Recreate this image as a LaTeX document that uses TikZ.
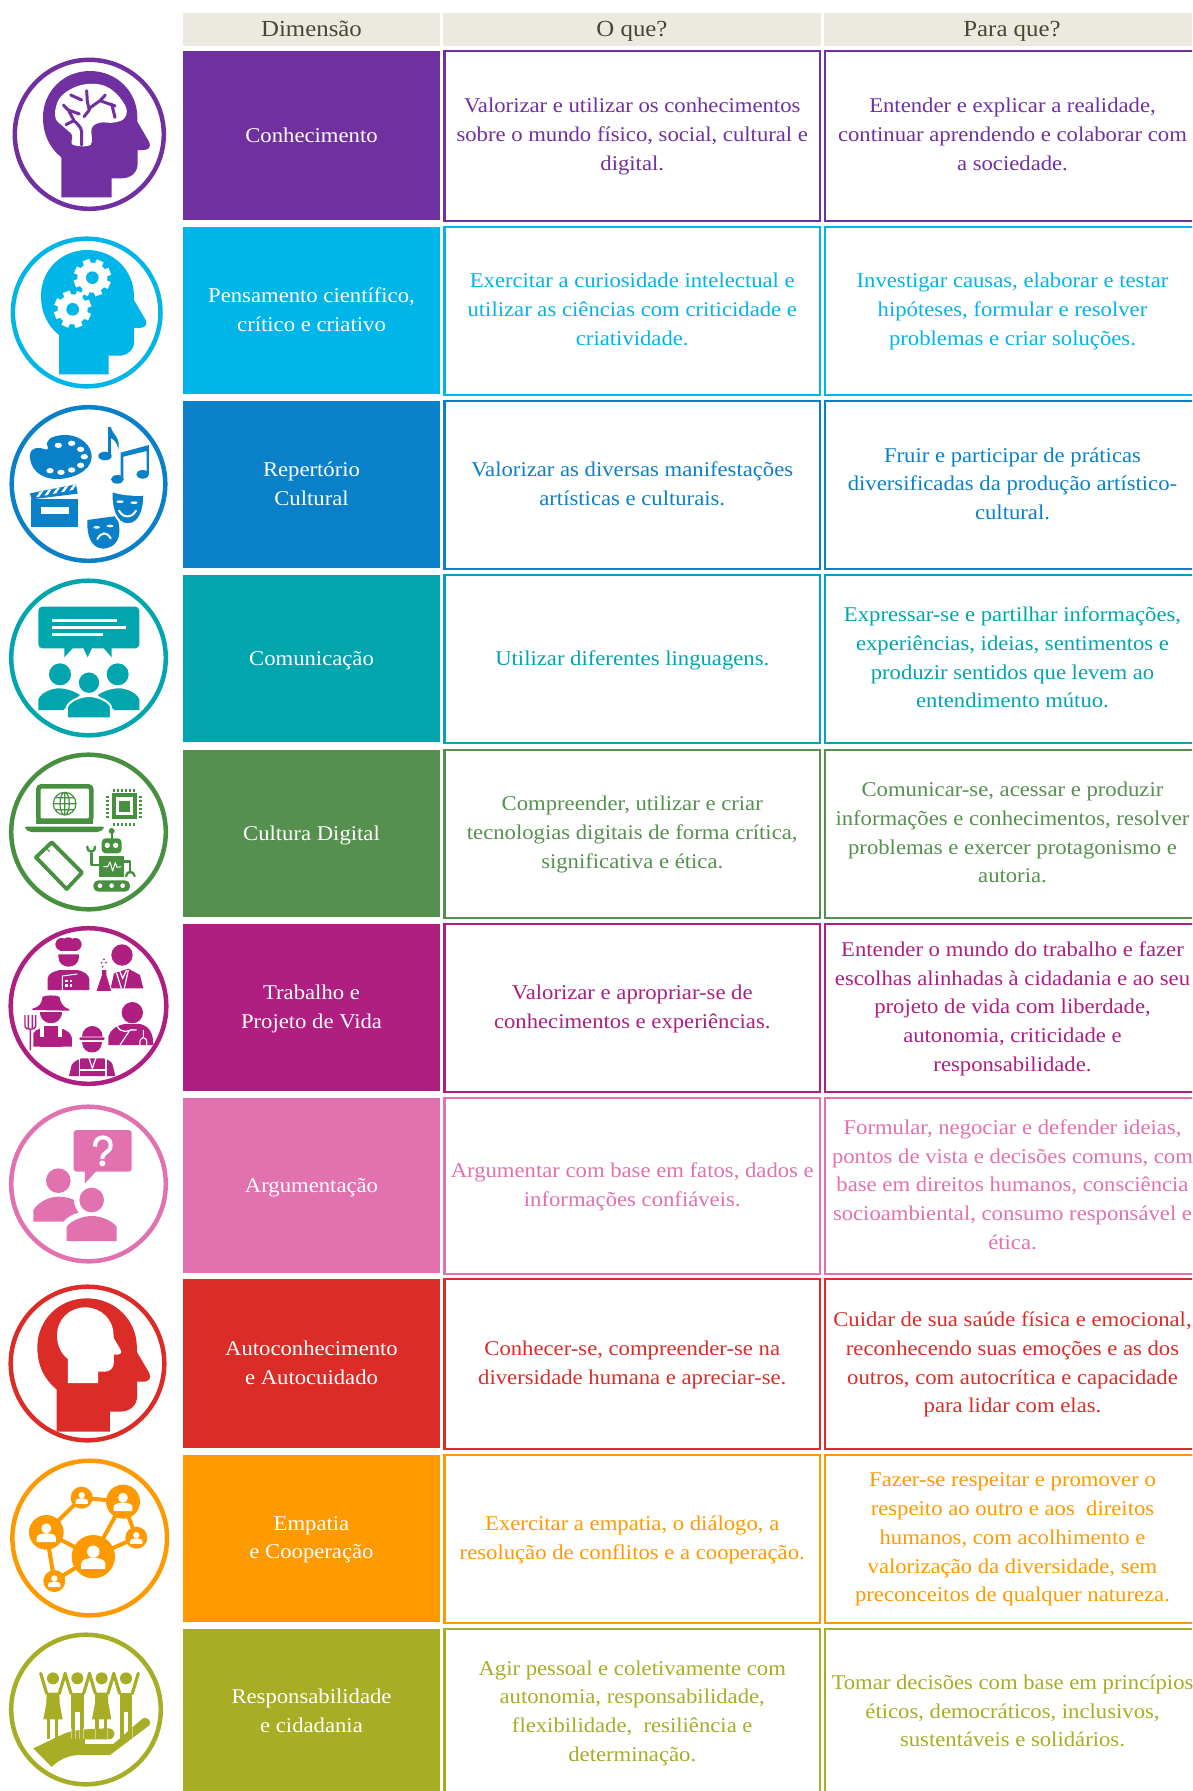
\documentclass[tikz,border=0pt]{standalone}
\usepackage{fontspec}
\setmainfont[FakeStretch=1.08]{Liberation Serif}
\definecolor{cA}{HTML}{7030A0}
\definecolor{cB}{HTML}{00B5E8}
\definecolor{cC}{HTML}{0A80C8}
\definecolor{cD}{HTML}{00A5AE}
\definecolor{cE}{HTML}{55904F}
\definecolor{cEi}{HTML}{46903F}
\definecolor{cF}{HTML}{AE1F81}
\definecolor{cG}{HTML}{E271AF}
\definecolor{cH}{HTML}{DC2C28}
\definecolor{cI}{HTML}{FF9900}
\definecolor{cJ}{HTML}{A7AD24}
\definecolor{hdfill}{HTML}{ECEAE0}
\definecolor{hdtext}{HTML}{4A4630}
\newcommand{\oneline}[1]{\raisebox{5.1pt}{#1}}
\tikzset{
  celltext/.style={font=\fontsize{21}{28.7}\selectfont,align=center,inner sep=0pt,execute at begin node={\rule{0pt}{26.1pt}},execute at end node=\strut},
  hdbox/.style={fill=hdfill,text=hdtext,inner sep=0pt,font=\fontsize{23}{28}\selectfont,minimum height=33pt,execute at begin node={\rule{0pt}{21.6pt}\rule[-8.4pt]{0pt}{8.4pt}}},
  zf/.style={yshift=#1,x=0.33333pt,y=-0.33333pt},
  ring/.style={draw=#1,line width=4.5pt},
}
\newcommand{\trow}[7]{%
  \node[fill=#2,inner sep=0pt,minimum width=257pt,minimum height={(#4-#3)*1pt}] (d#1) at (311.5,{(#3+#4)/2}) {};
  \node[draw=#2,line width=2.2pt,inner sep=0pt,minimum width=375.5pt,minimum height={(#4-#3+1)*1pt}] (o#1) at (632.25,{(#3+#4+1)/2}) {};
  \node[draw=#2,line width=2.2pt,inner sep=0pt,minimum width=375pt,minimum height={(#4-#3+1)*1pt}] (p#1) at (1012.5,{(#3+#4+1)/2}) {};
  \node[text=white,celltext] (dt#1) at (311.5,{(#3+#4)/2+3.2}) {#5};
  \node[text=#2,celltext] (ot#1) at (632.25,{(#3+#4)/2+3.2}) {#6};
  \node[text=#2,celltext] (pt#1) at (1012.5,{(#3+#4)/2+3.2}) {#7};
}
\newcommand{\headpath}{(55,379) -- (55,259) .. controls (21,232) and (0,192) .. (0,139) .. controls (0,62) and (61,0) .. (141,0) .. controls (221,0) and (283,62) .. (283,139) -- (283,152) -- (318,212) .. controls (326,227) and (316,237) .. (303,237) -- (284,237) -- (284,277) .. controls (284,305) and (263,322) .. (236,322) -- (206,322) -- (206,379) -- cycle}
\newcommand{\headicon}[4]{\begin{scope}[shift={(#1,#2)},scale=#3]\fill[#4] \headpath;\end{scope}}
\newcommand{\gearicon}[5]{\begin{scope}[shift={(#1,#2)}]
  \fill[white] (0,0) circle [radius=#3];
  \foreach \a in {0,45,...,315}{\fill[white,rotate=\a+20] (-11,0) rectangle (11,{#3+11});}
  \fill[#5] (0,0) circle [radius=#4];\end{scope}}
\newcommand{\netperson}[4]{% x y r colour
  \fill[#4] (#1,#2) circle [radius=#3];
  \begin{scope}[shift={(#1,#2)},scale=#3/52]
  \fill[white] (0,-12) circle [radius=15];
  \fill[white] (-29,29) -- (-29,16) .. controls (-29,6) and (-12,3) .. (0,3) .. controls (12,3) and (29,6) .. (29,16) -- (29,29) -- cycle;
  \end{scope}}
\begin{document}
\begin{tikzpicture}[x=1pt,y=-1pt]
\useasboundingbox (0,0) rectangle (1192,1791);
\clip (0,0) rectangle (1192,1791);
\fill[white] (0,0) rectangle (1192,1791);
% headers
\node[hdbox,minimum width=257pt] (h1) at (311.5,29.5) {Dimensão};
\node[hdbox,minimum width=378pt] (h2) at (632,29.5) {O que?};
\node[hdbox,minimum width=376pt] (h3) at (1012,29.5) {Para que?};
% rows
\trow{1}{cA}{51}{220}{\oneline{Conhecimento}}{Valorizar e utilizar os conhecimentos\\sobre o mundo físico, social, cultural e\\digital.}{Entender e explicar a realidade,\\continuar aprendendo e colaborar com\\a sociedade.}
\trow{2}{cB}{227}{394}{Pensamento científico,\\crítico e criativo}{Exercitar a curiosidade intelectual e\\utilizar as ciências com criticidade e\\criatividade.}{Investigar causas, elaborar e testar\\hipóteses, formular e resolver\\problemas e criar soluções.}
\trow{3}{cC}{401}{568}{Repertório\\Cultural}{Valorizar as diversas manifestações\\artísticas e culturais.}{Fruir e participar de práticas\\diversificadas da produção artístico-\\cultural.}
\trow{4}{cD}{575}{742}{\oneline{Comunicação}}{\oneline{Utilizar diferentes linguagens.}}{Expressar-se e partilhar informações,\\experiências, ideias, sentimentos e\\produzir sentidos que levem ao\\entendimento mútuo.}
\trow{5}{cE}{750}{917}{\oneline{Cultura Digital}}{Compreender, utilizar e criar\\tecnologias digitais de forma crítica,\\significativa e ética.}{Comunicar-se, acessar e produzir\\informações e conhecimentos, resolver\\problemas e exercer protagonismo e\\autoria.}
\trow{6}{cF}{924}{1091}{Trabalho e\\Projeto de Vida}{Valorizar e apropriar-se de\\conhecimentos e experiências.}{Entender o mundo do trabalho e fazer\\escolhas alinhadas à cidadania e ao seu\\projeto de vida com liberdade,\\autonomia, criticidade e\\responsabilidade.}
\trow{7}{cG}{1098}{1273}{\oneline{Argumentação}}{Argumentar com base em fatos, dados e\\informações confiáveis.}{Formular, negociar e defender ideias,\\pontos de vista e decisões comuns, com\\base em direitos humanos, consciência\\socioambiental, consumo responsável e\\ética.}
\trow{8}{cH}{1279}{1448}{Autoconhecimento\\e Autocuidado}{Conhecer-se, compreender-se na\\diversidade humana e apreciar-se.}{Cuidar de sua saúde física e emocional,\\reconhecendo suas emoções e as dos\\outros, com autocrítica e capacidade\\para lidar com elas.}
\trow{9}{cI}{1455}{1622}{Empatia\\e Cooperação}{Exercitar a empatia, o diálogo, a\\resolução de conflitos e a cooperação.}{Fazer-se respeitar e promover o\\respeito ao outro e aos\ \ direitos\\humanos, com acolhimento e\\valorização da diversidade, sem\\preconceitos de qualquer natureza.}
\trow{10}{cJ}{1629}{1795}{Responsabilidade\\e cidadania}{Agir pessoal e coletivamente com\\autonomia, responsabilidade,\\flexibilidade,\ \ resiliência e\\determinação.}{Tomar decisões com base em princípios\\éticos, democráticos, inclusivos,\\sustentáveis e solidários.}
% rings
\draw[ring=cA] (89.3,134.3) circle [radius=74.5];
\draw[ring=cB] (86.7,312.5) circle [radius=73.8];
\draw[ring=cC] (88.5,484) circle [radius=76.8];
\draw[ring=cD] (88.5,658) circle [radius=77.3];
\draw[ring=cEi] (88.5,832) circle [radius=77.3];
\draw[ring=cF] (88.5,1006) circle [radius=77.8];
\draw[ring=cG] (88.5,1184) circle [radius=77.3];
\draw[ring=cH] (87.5,1363.5) circle [radius=76.8];
\draw[ring=cI] (89.7,1538) circle [radius=77.3];
\draw[ring=cJ] (86,1709.5) circle [radius=74.8];
% icon 1 brain
\begin{scope}[zf=0pt]
\headicon{129}{213}{1}{cA}
\fill[white] plot [smooth cycle,tension=.6] coordinates {(166,330) (180,293) (215,266) (260,252) (310,256) (350,282) (379,325) (372,356) (340,368) (300,368) (275,385) (272,434) (218,434) (216,405) (190,380) (168,358)};
\fill[white] (218,395) rectangle (272,435);
\draw[cA,line width=3pt,line cap=round,line join=round]
 (245,435) -- (245,395) .. controls (243,380) and (232,372) .. (222,362) -- (198,374)
 (222,362) -- (205,330) -- (190,315)
 (205,330) -- (238,342)
 (212,285) -- (245,300)
 (260,272) -- (262,305) -- (268,330) -- (252,350)
 (268,325) -- (300,302) -- (316,285)
 (300,302) -- (345,318)
 (335,312) -- (345,352);
\end{scope}
% icon 2 gears
\begin{scope}[zf=0pt]
\headicon{123}{750}{0.985}{cB}
\gearicon{277}{833}{45}{19}{cB}
\gearicon{218}{928}{45}{19}{cB}
\end{scope}
% icon 3 arts
\begin{scope}[zf=-390pt]
\fill[cC] (90,195) .. controls (92,168) and (122,172) .. (135,178) .. controls (150,182) and (142,168) .. (140,160) .. controls (145,140) and (175,135) .. (195,135) .. controls (245,135) and (277,170) .. (275,203) .. controls (272,245) and (215,267) .. (170,267) .. controls (120,267) and (88,235) .. (90,195) -- cycle;
\foreach \p/\q in {175/166,215/160,242/178,253/200,242/226,215/240,183/247,150/242}{\fill[white] (\p,\q) ellipse [x radius=11,y radius=8];}
% notes
\fill[cC] (315,198) ellipse [x radius=20,y radius=13];
\fill[cC] (325,112) rectangle (333,198);
\fill[cC] (333,112) .. controls (338,135) and (362,140) .. (355,180) .. controls (352,155) and (340,148) .. (333,145) -- cycle;
\fill[cC] (352,268) ellipse [x radius=19,y radius=13];
\fill[cC] (428,253) ellipse [x radius=19,y radius=13];
\fill[cC] (362,188) -- (447,165) -- (447,255) -- (440,255) -- (440,183) -- (370,200) -- (370,270) -- (362,270) -- cycle;
% clapper
\fill[cC] (93,328) rectangle (235,410);
\fill[white] (122,350) rectangle (207,373);
\fill[cC] (90,310) -- (228,283) -- (233,311) -- (95,328) -- cycle;
\foreach \s in {0,1,2,3,4}{\fill[white] ({108+\s*25},{322-\s*5}) -- ({120+\s*25},{305-\s*5}) -- ({130+\s*25},{303-\s*5}) -- ({118+\s*25},{320-\s*5}) -- cycle;}
% masks
\fill[cC] (262,390) -- (350,378) .. controls (362,410) and (370,470) .. (310,476) .. controls (270,475) and (260,430) .. (262,390) -- cycle;
\fill[cC,draw=white,line width=2pt] (335,303) .. controls (365,313) and (400,316) .. (433,314) .. controls (433,360) and (420,402) .. (383,403) .. controls (345,402) and (332,350) .. (335,303) -- cycle;
\fill[white] (360,335) ellipse [x radius=11,y radius=4];
\fill[white] (402,338) ellipse [x radius=11,y radius=4];
\draw[white,line width=2pt,line cap=round] (357,362) .. controls (370,385) and (395,385) .. (408,362);
\fill[white] (290,412) ellipse [x radius=10,y radius=4];
\fill[white] (330,408) ellipse [x radius=10,y radius=4];
\draw[white,line width=2pt,line cap=round] (292,447) .. controls (305,425) and (320,425) .. (332,445);
\end{scope}
% icon 4 communication
\begin{scope}[zf=-390pt]
\fill[cD,rounded corners=4pt] (115,650) rectangle (418,775);
\fill[cD] (193,770) -- (193,802) -- (222,770) -- cycle (248,770) -- (263,802) -- (278,770) -- cycle (307,770) -- (335,802) -- (335,770) -- cycle;
\draw[white,line width=2.4pt] (157,692) -- (352,692) (157,713) -- (377,713) (157,734) -- (310,734);
\fill[cD] (180,853) circle [radius=33] (353,853) circle [radius=33];
\fill[cD] (115,960) -- (115,928) .. controls (125,905) and (160,895) .. (175,895) .. controls (200,895) and (225,905) .. (240,915) -- (190,960) -- cycle;
\fill[cD] (418,960) -- (418,928) .. controls (408,905) and (373,895) .. (358,895) .. controls (333,895) and (308,905) .. (293,915) -- (343,960) -- cycle;
\fill[cD,draw=white,line width=2pt] (267,878) circle [radius=34];
\fill[cD,draw=white,line width=2pt] (201,985) -- (201,950) .. controls (210,930) and (245,918) .. (267,918) .. controls (289,918) and (324,930) .. (333,950) -- (333,985) -- cycle;
\end{scope}
% icon 5 digital
\begin{scope}[zf=-740pt]
\draw[cEi,line width=4.6pt,rounded corners=3pt] (115,139) rectangle (274,242);
\fill[cEi] (108,240) rectangle (280,252);
\fill[cEi,rounded corners=2pt] (75,260) -- (312,260) -- (312,266) -- (298,276) -- (88,276) -- (75,266) -- cycle;
\draw[cEi,line width=1.2pt] (194,191) circle [radius=34] (194,191) ellipse [x radius=14,y radius=34] (160,191) -- (228,191) (166,173) -- (222,173) (166,209) -- (222,209) (194,157) -- (194,225);
\fill[cEi] (335,160) rectangle (412,238);
\fill[white] (347,172) rectangle (400,226);
\fill[cEi] (356,182) rectangle (391,216);
\foreach \k in {0,1,2,3,4,5}{
 \fill[cEi] ({339+\k*12},147) rectangle ({346+\k*12},156);
 \fill[cEi] ({339+\k*12},248) rectangle ({346+\k*12},257);
 \fill[cEi] (317,{168+\k*12}) rectangle (327,{175+\k*12});
 \fill[cEi] (417,{168+\k*12}) rectangle (427,{175+\k*12});
}
\draw[cEi,line width=3.8pt,line join=round] (155,307) -- (246,398) -- (200,447) -- (108,352) -- cycle;
\draw[cEi,line width=1pt] (135,322) -- (150,335);
\fill[cEi] (335,273) circle [radius=9];
\draw[cEi,line width=2pt] (335,275) -- (335,297);
\fill[cEi,rounded corners=4pt] (305,295) rectangle (365,340);
\fill[white] (322,316) circle [radius=8] (347,316) circle [radius=8];
\fill[cEi] (297,348) rectangle (372,412);
\draw[white,line width=1pt,line join=round] (310,380) -- (323,380) -- (330,366) -- (338,393) -- (346,368) -- (351,382) -- (364,380);
\draw[cEi,line width=2.6pt,line cap=round,line join=round] (297,375) -- (274,375) -- (274,340) (372,365) -- (390,365) -- (390,395);
\draw[cEi,line width=2.4pt,line cap=round] (262,320) .. controls (262,340) and (285,340) .. (285,320);
\draw[cEi,line width=2.4pt,line cap=round] (378,408) .. controls (380,392) and (402,392) .. (404,408);
\fill[cEi,rounded corners=5pt] (280,421) rectangle (390,455);
\fill[white] (300,437) circle [radius=7] (335,437) circle [radius=7] (368,437) circle [radius=7];
\end{scope}
% icon 6 work
\begin{scope}[zf=-740pt]
% chef
\fill[cF] (185,613) circle [radius=19] (205,612) circle [radius=20] (226,613) circle [radius=19];
\fill[cF] (180,615) rectangle (232,633);
\fill[cF] (175,643) -- (237,643) -- (237,650) .. controls (237,690) and (175,690) .. (175,650) -- cycle;
\fill[cF] (143,750) -- (143,715) .. controls (143,700) and (165,693) .. (180,690) -- (232,690) .. controls (255,695) and (268,705) .. (268,720) -- (268,750) -- cycle;
\draw[white,line width=1pt] (187,750) -- (187,708) -- (232,702);
\foreach \p/\q in {199/723,213/723,199/737,213/737}{\fill[white] (\p-4,\q-4) rectangle (\p+4,\q+4);}
% scientist
\fill[cF] (366,645) circle [radius=32];
\fill[cF] (332,745) -- (342,700) -- (385,686) -- (420,705) -- (430,745) -- cycle;
\draw[white,line width=1.2pt] (350,700) -- (364,745) (385,690) -- (373,745) (358,690) -- (368,715) -- (380,690);
\fill[cF,draw=white,line width=1pt] (304,688) -- (321,688) -- (321,705) -- (336,755) -- (287,755) -- (304,705) -- cycle;
\fill[cF] (312,658) circle [radius=3] (305,668) circle [radius=3] (318,668) circle [radius=3] (308,680) circle [radius=3];
% farmer
\fill[cF] (97,806) .. controls (120,800) and (125,790) .. (128,770) .. controls (140,765) and (165,765) .. (178,770) .. controls (182,790) and (190,802) .. (208,808) -- (208,812) -- (97,810) -- cycle;
\fill[cF] (120,816) -- (186,816) .. controls (186,860) and (120,860) .. (120,816) -- cycle;
\draw[cF,line width=1.4pt] (75,825) -- (75,860) .. controls (75,870) and (107,870) .. (107,860) -- (107,825) (85,825) -- (85,865) (97,825) -- (97,865) (91,868) -- (91,930);
\fill[cF] (100,920) -- (100,880) .. controls (103,872) and (112,868) .. (120,866) -- (120,920) -- cycle;
\fill[cF] (133,858) rectangle (175,890);
\fill[cF] (185,866) .. controls (200,870) and (214,880) .. (216,895) -- (216,920) -- (185,920) -- cycle;
\fill[cF] (120,890) rectangle (185,920);
\draw[white,line width=.7pt] (120,866) -- (120,890) (185,866) -- (185,890);
% worker
\fill[cF] (246,890) .. controls (246,870) and (262,858) .. (277,858) .. controls (292,858) and (308,870) .. (308,890) -- cycle;
\fill[cF,rounded corners=1pt] (238,892) rectangle (314,900);
\fill[cF] (247,905) -- (306,905) .. controls (306,948) and (247,948) .. (247,905) -- cycle;
\fill[cF] (207,1008) -- (215,975) .. controls (220,965) and (235,958) .. (245,955) -- (310,955) .. controls (325,958) and (335,965) .. (338,975) -- (346,1008) -- cycle;
\draw[white,line width=1.2pt] (238,958) -- (238,1008) (318,958) -- (318,1008) (238,990) -- (318,990);
\draw[white,line width=1.2pt] (265,948) -- (277,985) -- (290,948);
% doctor
\fill[cF] (397,818) circle [radius=32];
\fill[cF] (325,915) -- (325,890) .. controls (330,870) and (350,855) .. (375,852) -- (420,852) .. controls (445,858) and (460,875) .. (460,915) -- cycle;
\draw[white,line width=1.2pt] (360,915) -- (390,870) -- (410,870) (352,858) .. controls (360,880) and (385,875) .. (398,868);
\draw[white,line width=1.1pt] (420,915) .. controls (415,885) and (445,885) .. (440,915) (430,890) -- (430,870);
\end{scope}
% icon 7 argument
\begin{scope}[zf=-1090pt]
\fill[cG,rounded corners=3pt] (221,120) rectangle (395,245);
\fill[cG] (255,240) -- (255,280) -- (292,240) -- cycle;
\draw[white,line width=4pt] (285,170) .. controls (283,132) and (333,135) .. (332,165) .. controls (332,190) and (307,183) .. (307,207);
\fill[white] (307,220) circle [radius=9];
\fill[cG] (175,272) circle [radius=37];
\fill[cG] (100,395) -- (100,360) .. controls (115,335) and (150,320) .. (175,320) .. controls (190,320) and (210,323) .. (222,330) .. controls (222,345) and (228,358) .. (236,368) .. controls (215,373) and (200,382) .. (190,395) -- cycle;
\fill[cG] (275,330) circle [radius=37];
\fill[cG] (200,453) -- (200,410) .. controls (215,390) and (250,378) .. (275,378) .. controls (300,378) and (335,390) .. (350,410) -- (350,453) -- cycle;
\end{scope}
% icon 8 self
\begin{scope}[zf=-1090pt]
\headicon{112}{625}{1.055}{cH}
\headicon{171}{652}{0.6}{white}
\end{scope}
% icon 9 network
\begin{scope}[zf=-1440pt]
\coordinate (na) at (139,277);
\coordinate (nb) at (245,173);
\coordinate (nc) at (369,185);
\coordinate (nd) at (409,293);
\coordinate (ne) at (280,350);
\coordinate (nf) at (163,423);
\draw[cI,line width=4pt] (na) -- (nb) (nb) -- (nc) (nc) -- (nd) (nc) -- (ne) (nd) -- (ne) (ne) -- (nf) (na) -- (ne) (na) -- (nf);
\netperson{139}{277}{52}{cI}
\netperson{245}{173}{33}{cI}
\netperson{369}{185}{51}{cI}
\netperson{409}{293}{33}{cI}
\netperson{280}{350}{65}{cI}
\netperson{163}{423}{33}{cI}
\end{scope}
% icon 10 citizens
\begin{scope}[zf=-1440pt]
\fill[cJ] (100,925) -- (190,882) .. controls (220,868) and (280,866) .. (325,865) .. controls (350,865) and (350,898) .. (325,898) -- (255,898) -- (255,912) -- (340,912) -- (425,838) .. controls (440,825) and (458,845) .. (448,856) -- (330,945) -- (240,945) .. controls (205,945) and (175,960) .. (155,981) -- cycle;
\foreach \h in {159,305}{
 \fill[cJ] (\h,715) circle [radius=18];
 \fill[cJ] ({\h-19},758) -- ({\h+19},758) -- ({\h+20},790) -- ({\h+29},838) -- ({\h-29},838) -- ({\h-20},790) -- cycle;
 \fill[cJ] ({\h-19},838) rectangle ({\h-9},898);
 \fill[cJ] ({\h+6},838) rectangle ({\h+16},898);
}
\foreach \h in {232,378}{
 \fill[cJ] (\h,715) circle [radius=18];
 \fill[cJ] ({\h-19},758) rectangle ({\h+19},815);
 \fill[cJ] ({\h-19},815) rectangle ({\h-7},898);
 \fill[cJ] ({\h+7},815) rectangle ({\h+19},898);
}
\foreach \h in {122,195,268,341}{
 \draw[cJ,line width=3.2pt,line cap=round] (\h,700) -- ({\h+18},760);
}
\foreach \h in {196,269,342,415}{
 \draw[cJ,line width=3.2pt,line cap=round] (\h,700) -- ({\h-18},760);
}
\draw[white,opacity=.45,line width=.5pt] (213,865) -- (213,898) (225,865) -- (225,898) (238,865) -- (238,898) (250,865) -- (250,898) (286,868) -- (286,898) (321,868) -- (321,898) (359,865) -- (359,898) (397,865) -- (397,898);
\end{scope}
\end{tikzpicture}
\end{document}
